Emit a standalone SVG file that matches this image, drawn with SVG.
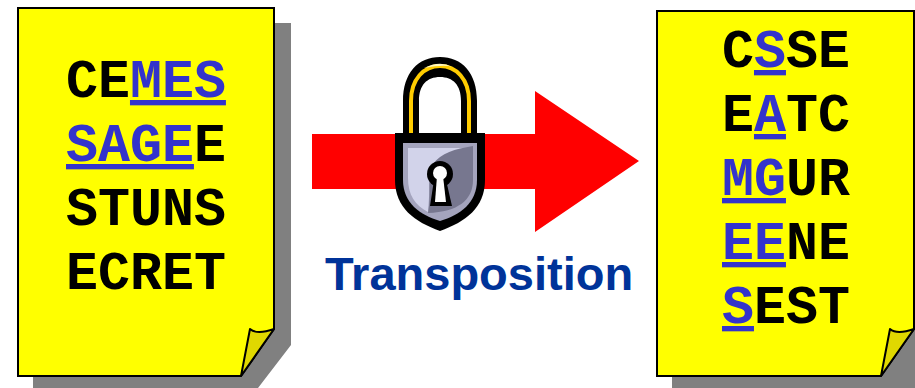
<svg xmlns="http://www.w3.org/2000/svg" width="915" height="388" viewBox="0 0 915 388">
<style>
.shadow{fill:#808080}
.page{fill:#ff0;stroke:#000;stroke-width:2;stroke-linejoin:miter}
.fold{fill:#e0d800;stroke:#000;stroke-width:2;stroke-linejoin:round}
.t{font-family:"Liberation Mono",monospace;font-weight:700;font-size:53.3px;fill:#000}
.b{fill:#3333cc;text-decoration:underline}
.lbl{font-family:"Liberation Sans",Arial,sans-serif;font-weight:700;font-size:47px;fill:#003399}
</style>
<rect width="915" height="388" fill="#fff"/>
<g id="plaintext-page">
<path class="shadow" d="M274 23H291V345L258 388H33V376H241L274 329Z"/>
<path class="page" d="M18 8H274V329L241 376H18Z"/>
<path class="fold" d="M241 376L250 329Q257 335 274 329Z"/>
<text class="t" x="66" y="97">CE<tspan class="b">MES</tspan></text>
<text class="t" x="66" y="161"><tspan class="b">SAGE</tspan>E</text>
<text class="t" x="66" y="225">STUNS</text>
<text class="t" x="66" y="289">ECRET</text>
</g>
<g id="connectors">
<path id="arrow" fill="#f00" d="M312 134H535V91L639 161L535 232V189H312Z"/>
</g>
<g id="lock">
<path fill="#000" d="M403 135V101C403 73 418 57 440 57C462 57 477 73 477 101V135H461V101C461 85 453 77 440 77C427 77 419 85 419 101V135Z"/>
<path fill="none" stroke="#fc0" stroke-width="4" d="M411 133V101C411 79 424 66 440 66C456 66 469 79 469 101V133"/>
<path fill="#fff8c0" d="M424 68Q440 60 452 67Q445 64 424 68Z"/>
<path fill="#000" d="M395 133H485V180C485 208 465 222 440 231C415 222 395 208 395 180Z"/>
<path fill="#a4a4bd" d="M403 143H477V180C477 203 460 215 440 221C420 215 403 203 403 180Z"/>
<path fill="#d2d3ea" d="M408 148H473C455 150 440 155 431 168L428 212C415 205 408 195 408 178Z"/>
<path fill="#77778f" d="M473 146V180C473 200 458 212 428 213C432 195 426 175 433 164C441 153 455 149 473 146Z"/>
<circle cx="440" cy="174" r="13" fill="#000"/>
<path fill="#000" d="M434 180H446L452 206H430Z"/>
<circle cx="440" cy="173" r="7" fill="#fff"/>
<path fill="#fff" d="M437 176H443L446 202H435Z"/>
</g>
<text id="label" class="lbl" x="325" y="290">Transposition</text>
<g id="ciphertext-page">
<path class="shadow" d="M914 23H915V388H672V376H881L914 329Z"/>
<path class="page" d="M657 11H914V329L881 376H657Z"/>
<path class="fold" d="M881 376L890 329Q897 335 914 329Z"/>
<text class="t" x="722" y="67">C<tspan class="b">S</tspan>SE</text>
<text class="t" x="722" y="131">E<tspan class="b">A</tspan>TC</text>
<text class="t" x="722" y="195"><tspan class="b">MG</tspan>UR</text>
<text class="t" x="722" y="259"><tspan class="b">EE</tspan>NE</text>
<text class="t" x="722" y="323"><tspan class="b">S</tspan>EST</text>
</g>
</svg>
